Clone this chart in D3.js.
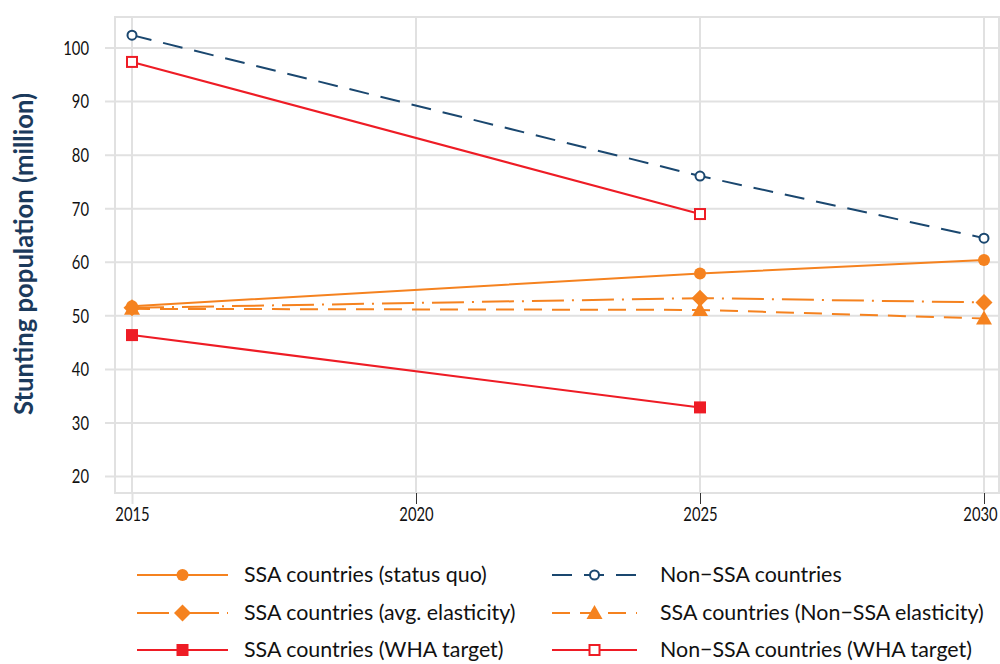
<!DOCTYPE html>
<html><head><meta charset="utf-8">
<script src="https://cdn.jsdelivr.net/npm/d3@7"></script>
<style>body{margin:0;background:#fff}svg{display:block}text{font-family:Lato,"Open Sans",sans-serif}</style>
</head><body>
<svg id="c" width="1000" height="664"></svg>
<script>
const years = [2015, 2025, 2030];
const xTicks = [2015, 2020, 2025, 2030];
const yTicks = [20, 30, 40, 50, 60, 70, 80, 90, 100];
const ssaStatusQuo = [51.8, 57.9, 60.4];
const ssaAvgElasticity = [51.5, 53.3, 52.5];
const ssaWhaTarget = [46.4, 32.9, null];
const nonSsa = [102.4, 76.1, 64.5];
const ssaNonSsaElasticity = [51.3, 51.1, 49.5];
const nonSsaWhaTarget = [97.4, 69.0, null];
const seriesNames = ["SSA countries (status quo)", "Non\u2212SSA countries", "SSA countries (avg. elasticity)", "SSA countries (Non\u2212SSA elasticity)", "SSA countries (WHA target)", "Non\u2212SSA countries (WHA target)"];

const ORANGE = "#F5821F", RED = "#EE1C25", NAVY = "#1A476F";
const series = [
  {name: seriesNames[0], vals: ssaStatusQuo, color: ORANGE, dash: null, marker: "circle"},
  {name: seriesNames[1], vals: nonSsa, color: NAVY, dash: "20,12", marker: "ocircle"},
  {name: seriesNames[2], vals: ssaAvgElasticity, color: ORANGE, dash: "32,8,2,8", marker: "diamond"},
  {name: seriesNames[3], vals: ssaNonSsaElasticity, color: ORANGE, dash: "18,10", marker: "triangle"},
  {name: seriesNames[4], vals: ssaWhaTarget, color: RED, dash: null, marker: "square"},
  {name: seriesNames[5], vals: nonSsaWhaTarget, color: RED, dash: null, marker: "osquare"}
];

const svg = d3.select("#c");
const x = d3.scaleLinear().domain([2015, 2030]).range([132, 984]);
const y = d3.scaleLinear().domain([20, 100]).range([476.5, 48]);
const plotL = 115, plotR = 999, plotT = 17, plotB = 493;
const GRID = "#E1E1E1";
const SX = 0.74;

const g = svg.append("g");
g.append("rect").attr("x", plotL).attr("y", plotT).attr("width", plotR - plotL).attr("height", plotB - plotT)
  .attr("fill", "none").attr("stroke", GRID).attr("stroke-width", 2);
g.selectAll(".yg").data(yTicks).join("line")
  .attr("x1", 105).attr("x2", plotR).attr("y1", d => y(d)).attr("y2", d => y(d))
  .attr("stroke", GRID).attr("stroke-width", 2);
g.selectAll(".xg").data(xTicks).join("line")
  .attr("x1", d => x(d)).attr("x2", d => x(d)).attr("y1", plotT).attr("y2", plotB)
  .attr("stroke", GRID).attr("stroke-width", 2);

const xAxis = d3.axisBottom(x).tickValues(xTicks).tickFormat(d3.format("d")).tickSize(11).tickPadding(6);
const xa = svg.append("g").attr("transform", `translate(0,${plotB})`).call(xAxis);
xa.select(".domain").remove();
xa.selectAll(".tick line").attr("stroke", "#333").attr("stroke-width", 1);
xa.selectAll(".tick").filter(d => d === 2015).select("line").attr("stroke", GRID).attr("stroke-width", 2);
xa.selectAll("text").attr("font-size", 20).attr("fill", "#111").style("font-family", "Lato, sans-serif")
  .attr("y", 14).attr("dy", "0.71em")
  .attr("transform", d => `translate(${d === 2030 ? -4 : 0},0) scale(${SX},1)`);

const yAxis = d3.axisLeft(y).tickValues(yTicks).tickSize(0).tickPadding(0);
const ya = svg.append("g").attr("transform", `translate(${plotL},0)`).call(yAxis);
ya.select(".domain").remove();
ya.selectAll("text").attr("font-size", 20).attr("fill", "#111").style("font-family", "Lato, sans-serif")
  .attr("x", -26 / SX).attr("transform", `scale(${SX},1)`);

svg.append("text").attr("transform", "translate(33,254) rotate(-90)").attr("text-anchor", "middle")
  .attr("font-size", 26).attr("font-weight", "bold").attr("fill", "#1B3A5C")
  .attr("textLength", 322).attr("lengthAdjust", "spacingAndGlyphs")
  .text("Stunting population (million)");

function drawMarker(sel, type, color, cx, cy) {
  if (type === "circle") sel.append("circle").attr("cx", cx).attr("cy", cy).attr("r", 6).attr("fill", color);
  else if (type === "ocircle") sel.append("circle").attr("cx", cx).attr("cy", cy).attr("r", 4.5).attr("fill", "#fff").attr("stroke", color).attr("stroke-width", 2);
  else if (type === "diamond") sel.append("path").attr("d", `M${cx},${cy-8.5}L${cx+8.5},${cy}L${cx},${cy+8.5}L${cx-8.5},${cy}Z`).attr("fill", color);
  else if (type === "triangle") sel.append("path").attr("d", `M${cx},${cy-8}L${cx+8},${cy+6}L${cx-8},${cy+6}Z`).attr("fill", color);
  else if (type === "square") sel.append("rect").attr("x", cx-6).attr("y", cy-6).attr("width", 12).attr("height", 12).attr("fill", color);
  else if (type === "osquare") sel.append("rect").attr("x", cx-5).attr("y", cy-5).attr("width", 10).attr("height", 10).attr("fill", "#fff").attr("stroke", color).attr("stroke-width", 2);
}

const line = d3.line().defined(d => d[1] != null).x(d => x(d[0])).y(d => y(d[1]));
const drawOrder = [3, 2, 0, 4, 5, 1];
drawOrder.forEach(i => {
  const s = series[i];
  const pts = years.map((yr, j) => [yr, s.vals[j]]).filter(d => d[1] != null);
  const lg = svg.append("g");
  lg.append("path").attr("d", line(pts)).attr("fill", "none").attr("stroke", s.color).attr("stroke-width", 2)
    .attr("stroke-dasharray", s.dash);
  pts.forEach(p => drawMarker(lg, s.marker, s.color, x(p[0]), y(p[1])));
});

const legRows = [575, 613, 650];
const legCols = [{x1: 137, x2: 228, tx: 244}, {x1: 552, x2: 637, tx: 660}];
series.forEach((s, i) => {
  const col = legCols[i % 2], ry = legRows[Math.floor(i / 2)];
  const lg = svg.append("g");
  lg.append("line").attr("x1", col.x1).attr("x2", col.x2).attr("y1", ry).attr("y2", ry)
    .attr("stroke", s.color).attr("stroke-width", 2).attr("stroke-dasharray", s.dash);
  drawMarker(lg, s.marker, s.color, (col.x1 + col.x2) / 2, ry);
  lg.append("text").attr("x", col.tx).attr("y", ry).attr("dy", "0.35em").attr("font-size", 21.4).attr("fill", "#111").text(s.name);
});
</script>
</body></html>
